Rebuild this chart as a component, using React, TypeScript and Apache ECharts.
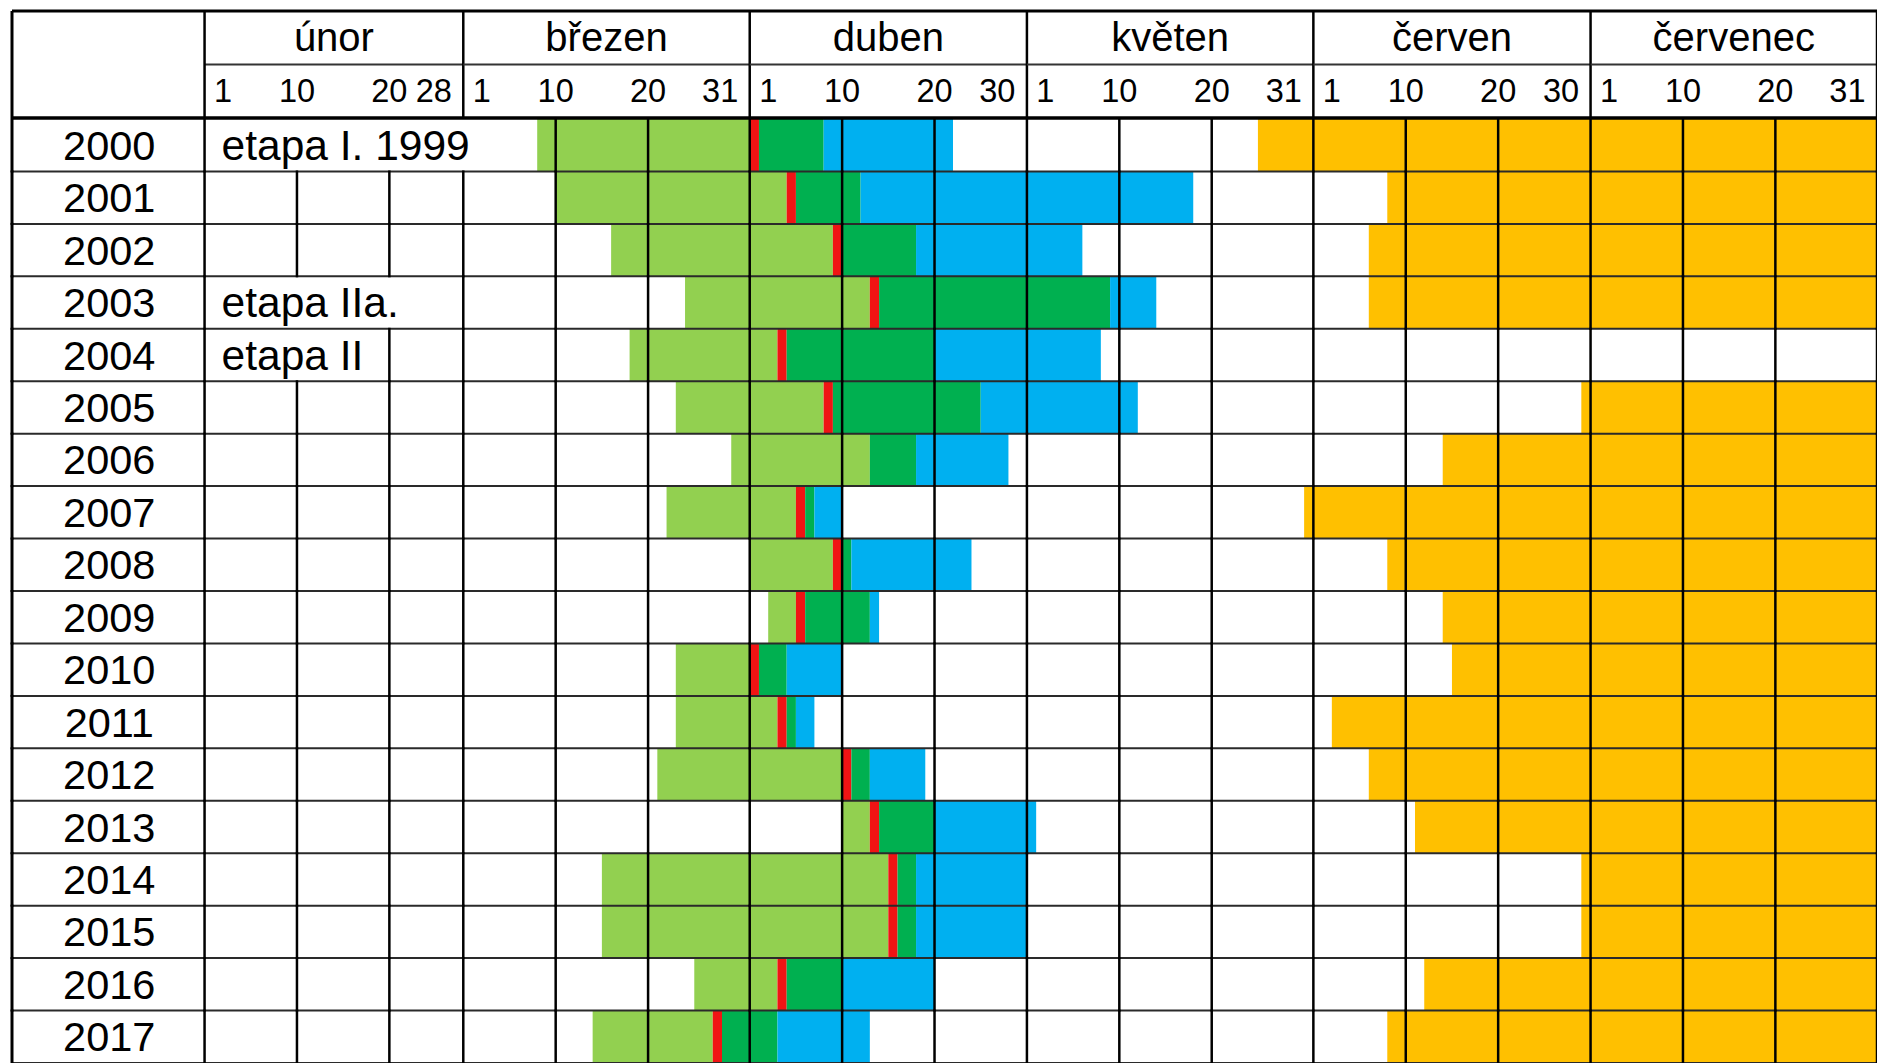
import React, { useEffect, useRef } from "react";
import * as echarts from "echarts";

// ---------- data (days counted from 1 February; 0 = start of 1 Feb) ----------
const years = ["2000","2001","2002","2003","2004","2005","2006","2007","2008","2009","2010","2011","2012","2013","2014","2015","2016","2017"];
const greenStart = [36, 38, 44, 52, 46, 51, 57, 50, 59, 61, 51, 51, 49, 69, 43, 43, 53, 42];
const redDay = [59, 63, 68, 72, 62, 67, null, 64, 68, 64, 59, 62, 69, 72, 74, 74, 62, 55];
const darkGreenStart = [60, 64, 69, 73, 63, 68, 72, 65, 69, 65, 60, 63, 70, 73, 75, 75, 63, 56];
const blueStart = [67, 71, 77, 98, 79, 84, 77, 66, 70, 72, 63, 64, 72, 79, 77, 77, 69, 62];
const blueEnd = [81, 107, 95, 103, 97, 101, 87, 69, 83, 73, 69, 66, 78, 90, 89, 89, 79, 72];
const orangeStart = [114, 128, 126, 126, null, 149, 134, 119, 128, 134, 135, 122, 126, 131, 149, 149, 132, 128];

const months = ["únor", "březen", "duben", "květen", "červen", "červenec"];
const monthDays = [28, 31, 30, 31, 30, 31];
const dayTickLabels = [
  ["1", "10", "20", "28"],
  ["1", "10", "20", "31"],
  ["1", "10", "20", "30"],
  ["1", "10", "20", "31"],
  ["1", "10", "20", "30"],
  ["1", "10", "20", "31"],
];

const noteYears = ["2000", "2003", "2004"];
const noteTexts = ["etapa I. 1999", "etapa IIa.", "etapa II"];
const noteEndDay = [38, 28, 20];

const phaseColors = ["#92D050", "#F01414", "#00B050", "#00B0F0", "#FFC000"];

// ---------- layout ----------
const FONT = '"Liberation Sans", Arial, sans-serif';
const GRID_LEFT = 12;
const GRID_WIDTH = 1875;
const X_MIN = -20.84; // width of the year column in day units
const HEAD_TOP = 11;
const HEAD_H = 107;
const BODY_TOP = 119;
const ROW_H = 52.6;

const monthStarts: number[] = [];
monthDays.reduce((acc, d) => {
  monthStarts.push(acc);
  return acc + d;
}, 0);
const totalDays = monthDays.reduce((a, b) => a + b, 0);
const divisions: number[] = [];
monthStarts.forEach((s, i) => {
  divisions.push(s + 10, s + 20, s + monthDays[i]);
});

function vline(x: number, y1: number, y2: number, w = 2.5, c = "#000") {
  return { type: "line", shape: { x1: x, y1, x2: x, y2 }, style: { stroke: c, lineWidth: w } };
}
function hline(x1: number, x2: number, y: number, w = 2, c = "#2a2a2a") {
  return { type: "line", shape: { x1, y1: y, x2, y2: y }, style: { stroke: c, lineWidth: w } };
}
function txt(x: number, y: number, text: string, size: number, align: string) {
  return {
    type: "text",
    style: {
      x,
      y,
      text,
      fill: "#000",
      fontSize: size,
      fontFamily: FONT,
      align,
      verticalAlign: "middle",
      textAlign: align,
      textVerticalAlign: "middle",
    },
  };
}

function buildOption() {
  const segData: number[][] = [];
  years.forEach((_, i) => {
    const r = redDay[i];
    segData.push([greenStart[i], r !== null ? r : darkGreenStart[i], i, 0]);
    if (r !== null) segData.push([r, r + 1, i, 1]);
    segData.push([darkGreenStart[i], blueStart[i], i, 2]);
    segData.push([blueStart[i], blueEnd[i], i, 3]);
    const o = orangeStart[i];
    if (o !== null) segData.push([o, totalDays, i, 4]);
  });

  return {
    animation: false,
    backgroundColor: "#fff",
    grid: [
      { left: GRID_LEFT, top: HEAD_TOP, width: GRID_WIDTH, height: HEAD_H },
      { left: GRID_LEFT, top: BODY_TOP, width: GRID_WIDTH, height: ROW_H * years.length },
    ],
    xAxis: [
      { gridIndex: 0, type: "value", min: X_MIN, max: totalDays, show: false },
      { gridIndex: 1, type: "value", min: X_MIN, max: totalDays, show: false },
    ],
    yAxis: [
      { gridIndex: 0, type: "value", min: 0, max: 2, inverse: true, show: false },
      { gridIndex: 1, type: "category", data: years, inverse: true, show: false },
    ],
    series: [
      {
        type: "custom",
        name: "fáze",
        xAxisIndex: 1,
        yAxisIndex: 1,
        z: 1,
        encode: { x: [0, 1], y: 2 },
        data: segData,
        renderItem: (params: any, api: any) => {
          const s = api.coord([api.value(0), api.value(2)]);
          const e = api.coord([api.value(1), api.value(2)]);
          const h = api.size([0, 1])[1];
          return {
            type: "rect",
            shape: { x: s[0], y: s[1] - h / 2, width: e[0] - s[0], height: h },
            style: { fill: phaseColors[api.value(3)] },
          };
        },
      },
      {
        type: "custom",
        name: "mřížka",
        xAxisIndex: 1,
        yAxisIndex: 1,
        z: 3,
        clip: false,
        encode: { x: 0, y: 1 },
        data: years.map((_, i) => [0, i]),
        renderItem: (params: any, api: any) => {
          const i = params.dataIndex;
          const c = api.coord([0, i]);
          const h = api.size([0, 1])[1];
          const top = c[1] - h / 2;
          const bot = c[1] + h / 2;
          const xl = api.coord([X_MIN, i])[0];
          const xr = api.coord([totalDays, i])[0];
          const children: any[] = [hline(xl, xr, bot)];
          const ni = noteYears.indexOf(years[i]);
          const hideBelow = ni >= 0 ? noteEndDay[ni] : -1;
          [X_MIN, 0, ...divisions].forEach((d) => {
            if (d > 0 && d < hideBelow) return;
            const x = api.coord([d, i])[0];
            children.push(vline(x, top - 1, bot + 1, d === X_MIN ? 3 : 2.5));
          });
          return { type: "group", children };
        },
      },
      {
        type: "custom",
        name: "popisky",
        xAxisIndex: 1,
        yAxisIndex: 1,
        z: 4,
        clip: false,
        encode: { x: 0, y: 1 },
        data: years.map((_, i) => [0, i]),
        renderItem: (params: any, api: any) => {
          const i = params.dataIndex;
          const yc = api.coord([0, i])[1];
          const xYear = api.coord([X_MIN / 2, i])[0] + 1;
          const children: any[] = [txt(xYear, yc, years[i], 41.5, "center")];
          const ni = noteYears.indexOf(years[i]);
          if (ni >= 0) {
            const x0 = api.coord([0, i])[0] + 17;
            children.push(txt(x0, yc, noteTexts[ni], 42.5, "left"));
          }
          return { type: "group", children };
        },
      },
      {
        type: "custom",
        name: "záhlaví",
        xAxisIndex: 0,
        yAxisIndex: 0,
        z: 4,
        clip: false,
        encode: { x: 0, y: 1 },
        data: months.map((_, i) => [monthStarts[i], 0]),
        renderItem: (params: any, api: any) => {
          const i = params.dataIndex;
          const s = monthStarts[i];
          const e = s + monthDays[i];
          const p = (d: number, y: number) => api.coord([d, y]);
          const children: any[] = [];
          const mc = p((s + e) / 2, 0.5);
          children.push(txt(mc[0], mc[1] - 1, months[i], 40, "center"));
          const labs = dayTickLabels[i];
          labs.forEach((lab, k) => {
            const t = Number(lab);
            const d = k === 0 ? s + 2 : k === labs.length - 1 ? e - 3.2 : s + t;
            const q = p(d, 1.5);
            children.push(txt(q[0], q[1], lab, 32.5, "center"));
          });
          const a = p(s, 1);
          const b = p(e, 1);
          children.push(hline(a[0], b[0], a[1], 2, "#333"));
          const t0 = p(e, 0);
          const t1 = p(e, 2);
          children.push(vline(t0[0], t0[1], t1[1]));
          return { type: "group", children };
        },
      },
      {
        type: "custom",
        name: "rámeček",
        xAxisIndex: 0,
        yAxisIndex: 0,
        z: 5,
        clip: false,
        encode: { x: 0, y: 1 },
        data: [[0, 0]],
        renderItem: (params: any, api: any) => {
          const tl = api.coord([X_MIN, 0]);
          const br = api.coord([totalDays, 2]);
          const yb = api.coord([0, 0]);
          const yb2 = api.coord([0, 2]);
          return {
            type: "group",
            children: [
              hline(tl[0], br[0], tl[1], 3, "#000"),
              hline(tl[0], br[0], br[1], 3.5, "#000"),
              vline(tl[0], tl[1], br[1], 3),
              vline(yb[0], yb[1], yb2[1], 2.5),
            ],
          };
        },
      },
    ],
  };
}

export default function App() {
  const ref = useRef<HTMLDivElement>(null);
  useEffect(() => {
    document.body.style.margin = "0";
    document.body.style.overflow = "hidden";
    const chart = echarts.init(ref.current as HTMLDivElement, null, { renderer: "svg" });
    chart.setOption(buildOption() as any);
    return () => chart.dispose();
  }, []);
  return (
    <div
      ref={ref}
      style={{ position: "absolute", left: 0, top: 0, width: 1877, height: 1063, background: "#fff" }}
    />
  );
}
